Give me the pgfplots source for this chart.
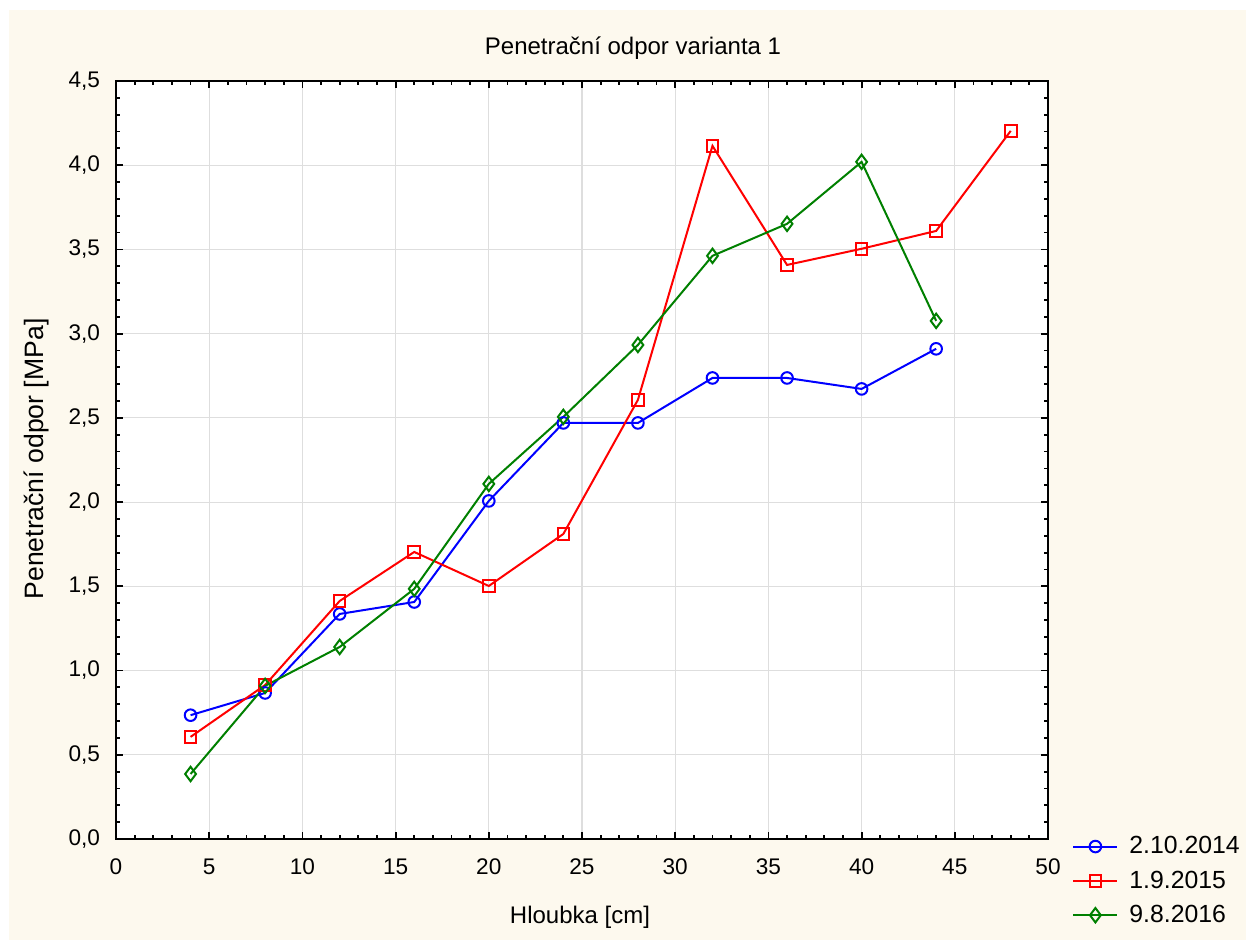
\documentclass[border=0pt]{standalone}
\usepackage{fontspec}
\setmainfont{Liberation Sans}
\usepackage{pgfplots}
\pgfplotsset{compat=1.18}
\definecolor{cream}{RGB}{253,249,238}
\definecolor{gridgray}{RGB}{222,222,222}
\definecolor{sgreen}{RGB}{0,128,0}
\begin{document}
\begin{tikzpicture}
\useasboundingbox (-58pt,-50.5pt) rectangle (565pt,419.5pt);
\fill[white] (-58pt,-50.5pt) rectangle (565pt,419.5pt);
\fill[cream] (-53.5pt,-50.5pt) rectangle (565pt,414.5pt);
\begin{axis}[
  at={(0,0)}, anchor=south west,
  width=466pt, height=379pt, scale only axis,
  xmin=0, xmax=50, ymin=0, ymax=4.5,
  xtick={0,5,...,50}, ytick={0,0.5,1,1.5,2,2.5,3,3.5,4,4.5},
  minor x tick num=4, minor y tick num=4,
  tick align=inside, major tick length=3.5pt, minor tick length=2pt,
  tick style={black, line width=0.9pt},
  axis line style={line width=1.1pt},
  grid=major, major grid style={gridgray, line width=0.6pt},
  axis background/.style={fill=white},
  /pgf/number format/assume math mode=true,
  tick label style={font=\fontsize{11.3}{13}\selectfont},
  yticklabel style={/pgf/number format/.cd, fixed, fixed zerofill, precision=1, use comma, /tikz/.cd, xshift=-4.5pt},
  xticklabel style={yshift=-6.5pt},
  legend style={at={(1,0)}, anchor=north west, xshift=9pt, yshift=5.5pt,
    draw=none, fill=none, font=\fontsize{12.4}{14}\selectfont,
    row sep=3pt, legend cell align=left,
    /tikz/every odd column/.append style={column sep=3.5pt}},
  legend image code/.code={\draw[mark repeat=2,mark phase=2,#1] plot coordinates {(0pt,0pt) (11pt,0pt) (22pt,0pt)};},
  every axis plot/.append style={line width=1pt, mark options={solid, fill=white, line width=1pt}},
]
\addplot[blue, mark=o, mark size=2.9pt] coordinates {
(4,0.735) (8,0.867) (12,1.336) (16,1.407) (20,2.007) (24,2.47) (28,2.47) (32,2.737) (36,2.737) (40,2.672) (44,2.91)};
\addplot[red, mark=square, mark size=2.9pt] coordinates {
(4,0.606) (8,0.914) (12,1.413) (16,1.704) (20,1.502) (24,1.811) (28,2.607) (32,4.115) (36,3.408) (40,3.504) (44,3.61) (48,4.204)};
\addplot[sgreen, mark=diamond, mark size=3.6pt] coordinates {
(4,0.386) (8,0.909) (12,1.14) (16,1.485) (20,2.108) (24,2.506) (28,2.933) (32,3.462) (36,3.652) (40,4.02) (44,3.076)};
\legend{2.10.2014,1.9.2015,9.8.2016}
\end{axis}
\node[font=\fontsize{12}{14}\selectfont] at (258.5pt,395.5pt) {Penetrační odpor varianta 1};
\node[font=\fontsize{12}{14}\selectfont] at (232pt,-39pt) {Hloubka [cm]};
\node[font=\fontsize{13.3}{15}\selectfont, rotate=90] at (-40pt,190pt) {Penetrační odpor [MPa]};
\end{tikzpicture}
\end{document}
